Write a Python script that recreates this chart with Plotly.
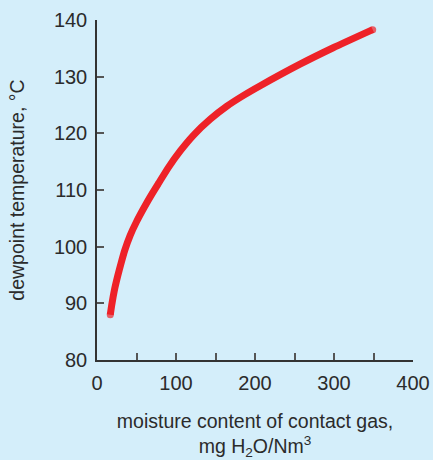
import plotly.graph_objects as go

# Data
moisture = [16.8, 19, 22, 26, 30.5, 35, 42, 50, 60, 70, 78, 90.5, 105.4, 122.3, 143.4, 164.5, 185.6, 206.7, 257, 299, 349]
dewpoint = [88.0, 90, 92.3, 94.7, 97.1, 99.3, 102.0, 104.4, 107.0, 109.4, 111.2, 114.0, 116.9, 119.7, 122.5, 124.8, 126.7, 128.4, 132.2, 135.1, 138.3]
x_ticks = [0, 100, 200, 300, 400]
y_ticks = [80, 90, 100, 110, 120, 130, 140]

BG = "#d4eefa"
RED = "#ee2228"
TXT = "#2b2b2b"
FONT = "Liberation Sans, Arial, sans-serif"

n = len(moisture)
sizes = [7] + [0] * (n - 2) + [7]

fig = go.Figure()
fig.add_trace(go.Scatter(
    x=moisture, y=dewpoint, mode="lines+markers",
    line=dict(color=RED, width=7, shape="spline", smoothing=0.6),
    marker=dict(color=RED, size=sizes, line=dict(width=0)),
    hoverinfo="skip", showlegend=False,
))

fig.update_layout(
    width=433, height=460,
    margin=dict(l=97, r=20, t=20, b=100),
    paper_bgcolor=BG, plot_bgcolor=BG,
    font=dict(family=FONT, color=TXT, size=20),
    xaxis=dict(
        range=[0, 400], tickvals=x_ticks, ticks="inside", ticklen=7,
        tickcolor="#555", tickwidth=1.5, automargin=False,
        minor=dict(dtick=50, tick0=0, ticks="inside", ticklen=7, tickcolor="#555", tickwidth=1.5),
        showline=True, linecolor="#333", linewidth=1.5, showgrid=False, zeroline=False,
        tickfont=dict(size=20), ticklabelstandoff=4,
        title=dict(text="moisture content of contact gas,<br>mg H<sub>2</sub>O/Nm<sup>3</sup>",
                   font=dict(size=19.5), standoff=24),
    ),
    yaxis=dict(
        range=[80, 140], tickvals=y_ticks, ticks="inside", ticklen=7,
        tickcolor="#555", tickwidth=1.5, automargin=False,
        showline=True, linecolor="#333", linewidth=1.5, showgrid=False, zeroline=False,
        tickfont=dict(size=20), ticklabelstandoff=4,
        title=dict(text="dewpoint temperature, °C", font=dict(size=19.5), standoff=24),
    ),
)

fig.write_html("out.html")
